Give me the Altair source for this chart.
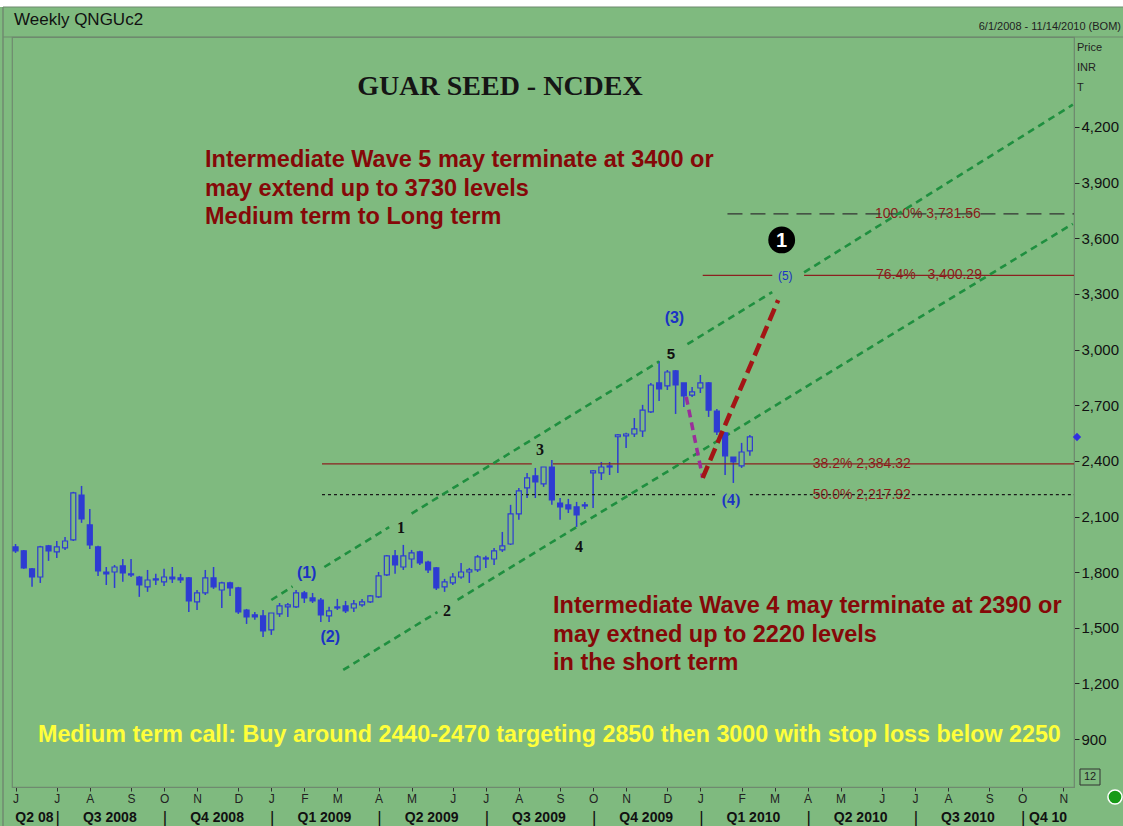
import altair as alt
import pandas as pd

# ---------------- data ----------------
# Weekly candles starting 2008-06-01
opens = [1936,1915,1818,1774,1942,1909,1931,1974,2216,2055,
         1936,1801,1801,1834,1791,1774,1721,1764,1748,1774,
         1769,1769,1640,1688,1769,1704,1742,1715,1596,1570,
         1564,1489,1575,1613,1613,1688,1661,1650,1564,1607,
         1618,1607,1624,1640,1667,1785,1888,1828,1871,1909,
         1855,1823,1721,1742,1774,1801,1812,1871,1871,1920,
         1952,2114,2254,2319,2276,2367,2173,2163,2152,2163,
         2335,2335,2367,2530,2535,2545,2561,2664,2820,2804,
         2885,2820,2755,2793,2820,2669,2551,2421,2373,2454]
highs = [1952,1920,1823,1942,1947,1968,1990,2233,2265,2141,
         1942,1828,1839,1871,1871,1780,1812,1791,1818,1828,
         1791,1774,1704,1812,1828,1748,1748,1721,1602,1586,
         1596,1580,1634,1634,1704,1699,1688,1661,1613,1656,
         1645,1650,1656,1677,1801,1893,1920,1947,1920,1915,
         1861,1828,1764,1796,1850,1823,1893,1888,1931,2017,
         2163,2254,2335,2362,2367,2405,2200,2195,2179,2179,
         2351,2394,2394,2545,2551,2631,2702,2820,2939,2890,
         2890,2820,2798,2863,2825,2680,2556,2421,2497,2540]
lows = [1904,1818,1721,1742,1861,1877,1920,1968,2066,1925,
        1780,1731,1715,1748,1774,1667,1694,1731,1726,1742,
        1742,1586,1596,1677,1710,1607,1672,1575,1521,1543,
        1451,1462,1559,1559,1607,1634,1634,1532,1532,1596,
        1580,1586,1613,1634,1661,1780,1791,1812,1823,1839,
        1796,1704,1694,1731,1764,1742,1801,1823,1839,1909,
        1947,2082,2200,2200,2260,2163,2082,2119,2044,2141,
        2146,2297,2324,2335,2470,2529,2529,2658,2723,2782,
        2653,2691,2745,2766,2637,2540,2324,2281,2362,2427]
closes = [1915,1823,1774,1936,1915,1936,1968,2227,2087,1947,
          1807,1791,1828,1796,1785,1731,1758,1758,1774,1764,
          1758,1645,1688,1769,1721,1742,1715,1586,1559,1559,
          1483,1580,1618,1624,1688,1661,1645,1570,1591,1613,
          1591,1629,1640,1672,1780,1888,1839,1888,1904,1850,
          1812,1715,1748,1774,1801,1812,1882,1877,1915,1942,
          2114,2238,2308,2287,2367,2190,2152,2141,2109,2157,
          2346,2367,2373,2540,2545,2572,2674,2809,2788,2879,
          2809,2750,2772,2820,2674,2556,2427,2394,2448,2529]

y_ticks = [900, 1200, 1500, 1800, 2100, 2400, 2700, 3000, 3300, 3600, 3900, 4200]
quarter_labels = ["Q2 08", "Q3 2008", "Q4 2008", "Q1 2009", "Q2 2009", "Q3 2009",
                  "Q4 2009", "Q1 2010", "Q2 2010", "Q3 2010", "Q4 10"]

# Elliott channel lines (segments, gaps where labels sit)
up_d1 = ["2009-01-04", "2009-02-18", "2009-05-03", "2009-12-23", "2010-04-01"]
up_p1 = [1650, 1828, 2116, 3029, 3416]
up_d2 = ["2009-01-22", "2009-04-14", "2009-11-29", "2010-03-05", "2010-11-15"]
up_p2 = [1723, 2043, 2936, 3310, 4320]
lo_d1 = ["2009-03-06", "2009-06-11"]
lo_p1 = [1273, 1651]
lo_d2 = ["2009-05-25", "2010-11-15"]
lo_p2 = [1585, 3678]

# Projected path (purple down leg, red up leg)
purple_d = ["2009-12-22", "2010-01-05"]
purple_p = [2745, 2308]
red_d = ["2010-01-05", "2010-03-10"]
red_p = [2308, 3267]

# Fibonacci levels
fib382 = 2384.32
fib500 = 2217.92
fib764 = 3400.29
fib1000 = 3731.56
fib_labels = ["38.2% 2,384.32", "50.0% 2,217.92",
              "76.4%\u00a0\u00a0\u00a03,400.29", "100.0% 3,731.56"]
fib_label_dates = ["2010-05-20", "2010-05-20", "2010-07-16", "2010-07-15"]
fib_label_prices = [fib382, fib500, fib764, fib1000]

# Wave labels
blue_labels = ["(1)", "(2)", "(3)"]
blue_dates = ["2009-02-03", "2009-02-23", "2009-12-12"]
blue_prices = [1796, 1451, 3171]
black_labels = ["1", "2", "3", "4"]
black_dates = ["2009-04-24", "2009-06-02", "2009-08-20", "2009-09-22"]
black_prices = [2039, 1591, 2459, 1936]

wave5_text = ["Intermediate Wave 5 may terminate at 3400 or",
              "may extend up to 3730 levels",
              "Medium term to Long term"]
wave4_text = ["Intermediate Wave 4 may terminate at 2390 or",
              "may extned up to 2220 levels",
              "in the short term"]
call_text = "Medium term call: Buy around 2440-2470 targeting 2850 then 3000 with stop loss below 2250"

# ---------------- styling ----------------
BG = "#7FBA7F"
BLUE = "#2E3CD2"
LBLUE = "#1B33C4"
GREEN = "#1F8F3F"
DRED = "#850808"
FRAME = "#6f8a6f"
SANS = "Liberation Sans, Arial, sans-serif"
SERIF = "Liberation Serif, Times New Roman, serif"
W, H = 1062, 750

start = pd.Timestamp("2008-06-01")
dates = [(start + pd.Timedelta(weeks=i)).strftime("%Y-%m-%d") for i in range(len(opens))]
candles = pd.DataFrame({"date": dates, "open": opens, "high": highs,
                        "low": lows, "close": closes})
candles["up"] = candles["close"] >= candles["open"]


def dt(s):
    y, m, d = map(int, s.split("-"))
    return alt.DateTime(year=y, month=m, date=d, utc=True)


DOM0, DOM1 = "2008-05-29", "2010-11-16"
xscale = alt.Scale(type="utc", domain=[dt(DOM0), dt(DOM1)], padding=0, nice=False)
yscale = alt.Scale(domain=[642, 4685], nice=False, zero=False, padding=0)

month_starts = pd.date_range("2008-06-01", "2010-11-01", freq="MS")
first_bars = [ms + pd.Timedelta(days=(6 - ms.weekday()) % 7) for ms in month_starts]
tick_values = [dt(s.strftime("%Y-%m-%d")) for s in first_bars]

xaxis = alt.Axis(values=tick_values,
                 labelExpr="substring(utcFormat(datum.value, '%b'), 0, 1)",
                 title=None, grid=False, tickSize=4, tickColor="#333",
                 domainColor=FRAME, labelFontSize=12, labelFont=SANS,
                 labelColor="#222", labelPadding=2, labelFlush=False,
                 labelOverlap=False)
yaxis = alt.Axis(orient="right", values=y_ticks, format=",d", title=None,
                 grid=False, tickSize=5, tickColor="#222", domainColor=FRAME,
                 labelFontSize=15, labelFont=SANS, labelColor="#111",
                 labelPadding=2)


def X(field):
    return alt.X(field, scale=xscale, axis=xaxis)


def Y(field):
    return alt.Y(field, scale=yscale, axis=yaxis)


one = pd.DataFrame({"k": [0]})


def vtext(text, x, y, **kw):
    return alt.Chart(one).mark_text(text=text, **kw).encode(
        x=alt.value(x), y=alt.value(y))


def seg_df(d1, p1, d2, p2):
    return pd.DataFrame({"d1": d1, "p1": p1, "d2": d2, "p2": p2})


def seg_layer(df, **kw):
    return alt.Chart(df).mark_rule(**kw).encode(
        x=X("d1:T"), x2="d2:T", y=Y("p1:Q"), y2="p2:Q")


def label_layer(labels, ds, ps, **kw):
    return alt.Chart(pd.DataFrame({"t": labels, "d": ds, "p": ps})).mark_text(**kw).encode(
        x=X("d:T"), y=Y("p:Q"), text="t:N")


# ---------------- layers ----------------
wicks = alt.Chart(candles).mark_rule(color=BLUE, strokeWidth=1.5).encode(
    x=X("date:T"), y=Y("low:Q"), y2="high:Q")

bodies = alt.Chart(candles).mark_bar(width=5, stroke=BLUE, strokeWidth=1.2).encode(
    x=X("date:T"), y=Y("open:Q"), y2="close:Q",
    fill=alt.condition("datum.up", alt.value(BG), alt.value(BLUE)))

fib_lab = label_layer(fib_labels, fib_label_dates, fib_label_prices,
                      font=SANS, fontSize=14, color="#8B1A1A")

END = DOM1
fib_solid = seg_layer(seg_df(["2009-02-16", "2009-08-31", "2010-01-05", "2010-04-01"],
                             [fib382, fib382, fib764, fib764],
                             ["2009-08-13", END, "2010-03-05", END],
                             [fib382, fib382, fib764, fib764]),
                      color="#8B2020", strokeWidth=1.3)
fib_dot = seg_layer(seg_df(["2009-02-16", "2010-02-14"], [fib500, fib500],
                           ["2010-01-17", END], [fib500, fib500]),
                    color="#1a1a1a", strokeWidth=1.2, strokeDash=[3, 3])
fib_dash = seg_layer(seg_df(["2010-01-26"], [fib1000], [END], [fib1000]),
                     color="#333333", strokeWidth=1.3, strokeDash=[15, 8])

channel = seg_layer(seg_df(up_d1 + lo_d1, up_p1 + lo_p1, up_d2 + lo_d2, up_p2 + lo_p2),
                    color=GREEN, strokeWidth=2.6, strokeDash=[7, 5])

purple = seg_layer(seg_df([purple_d[0]], [purple_p[0]], [purple_d[1]], [purple_p[1]]),
                   color="#9A2F9A", strokeWidth=3.5, strokeDash=[8, 5])
redleg = seg_layer(seg_df([red_d[0]], [red_p[0]], [red_d[1]], [red_p[1]]),
                   color="#A31515", strokeWidth=4.5, strokeDash=[13, 6])

blue_lab = label_layer(blue_labels, blue_dates, blue_prices,
                       font=SANS, fontSize=16, fontWeight="bold", color=LBLUE)
lab4 = label_layer(["(4)"], ["2010-01-29"], [2190],
                   font=SERIF, fontSize=16, fontWeight="bold", color=LBLUE)
lab5 = label_layer(["(5)"], ["2010-03-16"], [3397],
                   font=SANS, fontSize=12, color=LBLUE)
black_lab = label_layer(black_labels, black_dates, black_prices,
                        font=SERIF, fontSize=16, fontWeight="bold", color="#111")
lab_5 = label_layer(["5"], ["2009-12-09"], [2976],
                    font=SANS, fontSize=15, fontWeight="bold", color="#111")

circ_df = pd.DataFrame({"t": ["1"], "d": ["2010-03-13"], "p": [3591]})
circle = alt.Chart(circ_df).mark_point(shape="circle", filled=True, size=720,
                                       color="#000000", opacity=1).encode(
    x=X("d:T"), y=Y("p:Q"))
circle_t = alt.Chart(circ_df).mark_text(font=SANS, fontSize=20, fontWeight="bold",
                                        color="white", dy=1).encode(
    x=X("d:T"), y=Y("p:Q"), text="t:N")

last_df = pd.DataFrame({"d": [END], "p": [closes[-1]]})
diamond = alt.Chart(last_df).mark_point(shape="diamond", filled=True, size=70,
                                        color="#3030E0", opacity=1, xOffset=3).encode(
    x=X("d:T"), y=Y("p:Q"))

# quarter labels / separators below axis
bounds = [pd.Timestamp(DOM0)] + [first_bars[i] for i in range(1, len(first_bars))
                                 if first_bars[i].month in (1, 4, 7, 10)] + [pd.Timestamp(DOM1)]
mids = [(bounds[i] + (bounds[i + 1] - bounds[i]) / 2).strftime("%Y-%m-%d")
        for i in range(len(bounds) - 1)]
q_df = pd.DataFrame({"t": quarter_labels, "d": mids})
q_lab = alt.Chart(q_df).mark_text(font=SANS, fontSize=14, fontWeight="bold",
                                  color="#111").encode(
    x=X("d:T"), y=alt.value(H + 31), text="t:N")
sep_df = pd.DataFrame({"d": [b.strftime("%Y-%m-%d") for b in bounds[1:-1]]})
q_sep = alt.Chart(sep_df).mark_text(text="|", font=SANS, fontSize=17,
                                    color="#111", dx=1).encode(
    x=X("d:T"), y=alt.value(H + 31))

# decorations / texts at fixed places of the frame
white_top = alt.Chart(one).mark_rect(color="white").encode(
    x=alt.value(-12), x2=alt.value(W + 49), y=alt.value(-37), y2=alt.value(-30))
top_line = alt.Chart(one).mark_rule(color=FRAME, strokeWidth=1.2).encode(
    x=alt.value(-9), x2=alt.value(W + 49), y=alt.value(-30))
hdr_line = alt.Chart(one).mark_rule(color=FRAME, strokeWidth=1.2).encode(
    x=alt.value(-9), x2=alt.value(W + 49), y=alt.value(0))
left_line = alt.Chart(one).mark_rule(color=FRAME, strokeWidth=1.5).encode(
    x=alt.value(-9), y=alt.value(-30), y2=alt.value(H + 39))

hdr1 = vtext("Weekly QNGUc2", 2, -17, font=SANS, fontSize=17, color="#111", align="left")
hdr2 = vtext("6/1/2008 - 11/14/2010 (BOM)", W + 47, -10, font=SANS, fontSize=11,
             color="#222", align="right")
price_lab = vtext(["Price", "INR", "T"], W + 3, 11, font=SANS, fontSize=11,
                  color="#222", align="left", baseline="middle", lineHeight=20)
box12 = alt.Chart(one).mark_rect(fill=BG, stroke="#333", strokeWidth=1).encode(
    x=alt.value(W + 6), x2=alt.value(W + 26), y=alt.value(H - 18), y2=alt.value(H - 2))
txt12 = vtext("12", W + 16, H - 10, font=SANS, fontSize=11, color="#222")
ball = alt.Chart(one).mark_point(shape="circle", filled=True, size=200, color="#169A16",
                                 stroke="white", strokeWidth=1.5, opacity=1).encode(
    x=alt.value(W + 41), y=alt.value(H + 10))

title = vtext("GUAR SEED - NCDEX", 488, 50, font=SERIF, fontSize=28,
              fontWeight="bold", color="#151515")
w5 = vtext(wave5_text, 193, 123, font=SANS, fontSize=23.5, fontWeight="bold",
           color=DRED, align="left", baseline="middle", lineHeight=28.5)
w4 = vtext(wave4_text, 541, 569, font=SANS, fontSize=23.5, fontWeight="bold",
           color=DRED, align="left", baseline="middle", lineHeight=28.5)
call = vtext(call_text, 26, 698, font=SANS, fontSize=23.3, fontWeight="bold",
             color="#FFFF3A", align="left")

chart = alt.layer(
    wicks, white_top, top_line, hdr_line, left_line,
    fib_lab, fib_solid, fib_dot, fib_dash, channel,
    bodies, purple, redleg,
    blue_lab, lab4, lab5, black_lab, lab_5, circle, circle_t, diamond,
    q_lab, q_sep, hdr1, hdr2, price_lab, box12, txt12, ball,
    title, w5, w4, call,
).properties(
    width=W, height=H, autosize="none",
    padding={"left": 12, "top": 37, "right": 49, "bottom": 39},
    background=BG,
).configure_view(stroke=FRAME, strokeWidth=1.2, fill=BG)

chart.save("out.html", embed_options={"renderer": "svg", "actions": False})
